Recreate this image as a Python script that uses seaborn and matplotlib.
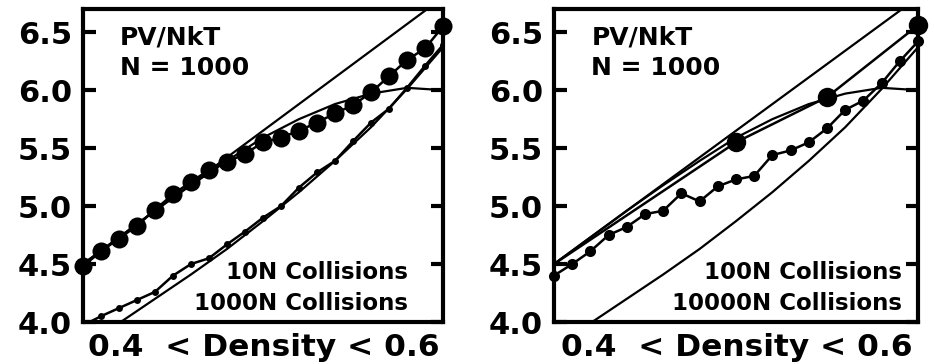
import numpy as np
import pandas as pd
import matplotlib
matplotlib.use("Agg")
import matplotlib.pyplot as plt
import seaborn as sns

# simulation densities, step 0.01
density = [0.40, 0.41, 0.42, 0.43, 0.44, 0.45, 0.46, 0.47, 0.48, 0.49, 0.50,
           0.51, 0.52, 0.53, 0.54, 0.55, 0.56, 0.57, 0.58, 0.59, 0.60]

# left panel
pv_10n = [4.48, 4.61, 4.72, 4.83, 4.97, 5.10, 5.21, 5.31, 5.38, 5.45, 5.55,
          5.59, 5.65, 5.72, 5.80, 5.87, 5.98, 6.12, 6.26, 6.36, 6.55]
pv_1000n = [3.97, 4.05, 4.12, 4.19, 4.26, 4.40, 4.50, 4.55, 4.67, 4.78, 4.90,
            5.00, 5.16, 5.29, 5.39, 5.56, 5.72, 5.84, 6.02, 6.21, 6.39]

# right panel
density_100n = [0.40, 0.50, 0.55, 0.60]
pv_100n = [4.50, 5.55, 5.94, 6.56]
pv_10000n = [4.40, 4.50, 4.61, 4.75, 4.82, 4.93, 4.96, 5.11, 5.04, 5.17, 5.23,
             5.26, 5.44, 5.48, 5.55, 5.67, 5.83, 5.91, 6.06, 6.25, 6.42]

# reference curves (same in both panels)
theory_density = [0.40, 0.42, 0.44, 0.46, 0.48, 0.50, 0.52, 0.54, 0.56, 0.58, 0.60]
theory_upper = [4.50, 4.73, 4.96, 5.19, 5.42, 5.65, 5.88, 6.11, 6.34, 6.57, 6.80]
theory_series = [4.50, 4.73, 4.96, 5.18, 5.39, 5.59, 5.75, 5.88, 5.97, 6.02, 6.00]
theory_lower = [3.79, 3.99, 4.20, 4.41, 4.63, 4.87, 5.12, 5.39, 5.68, 6.01, 6.37]

yticks = [4.0, 4.5, 5.0, 5.5, 6.0, 6.5]
ytick_labels = ["4.0", "4.5", "5.0", "5.5", "6.0", "6.5"]

sns.set_theme(style="white")
plt.rcParams['font.family'] = ['DejaVu Sans']
plt.rcParams['font.weight'] = 'bold'
plt.rcParams['text.color'] = 'black'
plt.rcParams['ytick.color'] = 'black'
plt.rcParams['ytick.labelcolor'] = 'black'

fig = plt.figure(figsize=(9.35, 3.64), dpi=100)
ax1 = fig.add_axes([83/935, 1-322/364, 360/935, 313/364])
ax2 = fig.add_axes([554/935, 1-322/364, 364/935, 313/364])

theory = pd.DataFrame({"density": theory_density, "upper": theory_upper,
                       "series": theory_series, "lower": theory_lower})


def draw_theory(ax):
    for col in ["upper", "series", "lower"]:
        sns.lineplot(data=theory, x="density", y=col, ax=ax, color="black",
                     lw=1.6, estimator=None, errorbar=None)


def data_line(ax, x, y, ms, clip=False, **kw):
    df = pd.DataFrame({"density": x, "pv": y})
    sns.lineplot(data=df, x="density", y="pv", ax=ax, color="black", lw=1.8,
                 marker="o", markersize=ms, markeredgewidth=0,
                 estimator=None, errorbar=None, **kw)
    ax.lines[-1].set_clip_on(clip)


def style(ax):
    ax.set_xlim(0.40, 0.60)
    ax.set_ylim(4.0, 6.70)
    ax.set_yticks(yticks)
    ax.set_yticklabels(ytick_labels, fontsize=22, fontweight="bold", color="black")
    ax.set_xticks([])
    ax.set_xlabel("")
    ax.set_ylabel("")
    ax.tick_params(axis="y", direction="in", length=9, width=3, left=True,
                   right=True, labelright=False, pad=8, colors="black")
    for sp in ax.spines.values():
        sp.set_color("black")
        sp.set_linewidth(3)
    ax.text(0.103, 0.887, "PV/NkT", transform=ax.transAxes, fontsize=18,
            fontweight="bold", va="baseline", color="black")
    ax.text(0.103, 0.788, "N = 1000", transform=ax.transAxes, fontsize=18,
            fontweight="bold", va="baseline", color="black")
    ax.text(0.503, -0.108, "0.4  < Density < 0.6", transform=ax.transAxes,
            fontsize=22.5, fontweight="bold", ha="center", va="baseline",
            color="black", clip_on=False)


draw_theory(ax1)
data_line(ax1, density, pv_10n, 13)
data_line(ax1, density, pv_1000n, 5, clip=True)
style(ax1)
ax1.text(0.903, 0.137, "10N Collisions", transform=ax1.transAxes,
         fontsize=16.5, fontweight="bold", ha="right", va="baseline", color="black")
ax1.text(0.903, 0.038, "1000N Collisions", transform=ax1.transAxes,
         fontsize=16.5, fontweight="bold", ha="right", va="baseline", color="black")

draw_theory(ax2)
data_line(ax2, density_100n, pv_100n, 14, markevery=[1, 2, 3])
data_line(ax2, density, pv_10000n, 8)
style(ax2)
ax2.text(0.956, 0.137, "100N Collisions", transform=ax2.transAxes,
         fontsize=16.5, fontweight="bold", ha="right", va="baseline", color="black")
ax2.text(0.956, 0.038, "10000N Collisions", transform=ax2.transAxes,
         fontsize=16.5, fontweight="bold", ha="right", va="baseline", color="black")

fig.savefig("out.png", dpi=100, facecolor="white")
